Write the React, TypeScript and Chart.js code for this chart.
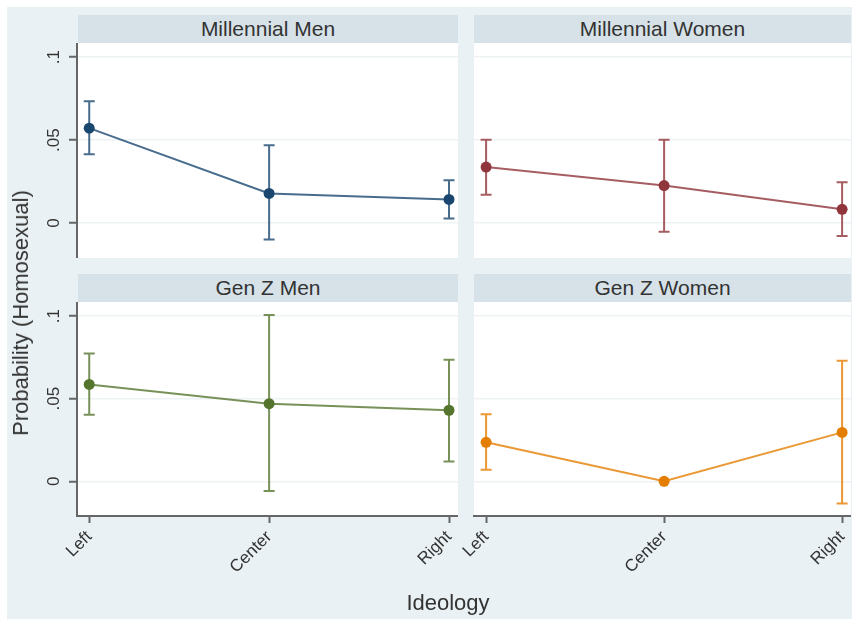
import React, { useEffect, useRef } from "react";
import { Chart, registerables } from "chart.js";

Chart.register(...registerables);
Chart.defaults.font.family = '"Liberation Sans", Arial, Helvetica, sans-serif';

// ---- data ----
const ideologyLabels = ["Left", "Center", "Right"];
const yTickValues = [0, 0.05, 0.1];
const yTickLabels = ["0", ".05", ".1"];
const panelTitles = ["Millennial Men", "Millennial Women", "Gen Z Men", "Gen Z Women"];

const millennialMenEst = [0.0572, 0.0179, 0.0143];
const millennialMenLow = [0.0415, -0.0098, 0.0028];
const millennialMenHigh = [0.0734, 0.0469, 0.0258];

const millennialWomenEst = [0.0338, 0.0226, 0.0083];
const millennialWomenLow = [0.0171, -0.0052, -0.0078];
const millennialWomenHigh = [0.0503, 0.0503, 0.0246];

const genZMenEst = [0.0586, 0.047, 0.043];
const genZMenLow = [0.0402, -0.0058, 0.012];
const genZMenHigh = [0.0774, 0.1006, 0.0736];

const genZWomenEst = [0.0236, 0.0, 0.0296];
const genZWomenLow = [0.007, 0.0, -0.0134];
const genZWomenHigh = [0.0406, 0.0, 0.073];

const yMin = -0.021;
const yMax = 0.1085;
const xMin = -0.068;
const xMax = 2.05;

// ---- styles ----
const outerBg = "#eaf1f4";
const stripBg = "#d6e2e8";
const gridColor = "#edf2f4";
const axisColor = "#666666";
const textColor = "#333333";

type PanelDef = {
  title: string;
  est: number[];
  low: number[];
  high: number[];
  marker: string;
  line: string;
  left: boolean;
  bottom: boolean;
  yw: number;
  cx: number;
  cy: number;
  cw: number;
  ch: number;
  hx: number;
  hy: number;
  hw: number;
};

const panels: PanelDef[] = [
  {
    title: panelTitles[0], est: millennialMenEst, low: millennialMenLow, high: millennialMenHigh,
    marker: "rgb(26,71,111)", line: "rgba(26,71,111,0.8)", left: true, bottom: false, yw: 70,
    cx: 7, cy: 43, cw: 451, ch: 215, hx: 78, hy: 15, hw: 380,
  },
  {
    title: panelTitles[1], est: millennialWomenEst, low: millennialWomenLow, high: millennialWomenHigh,
    marker: "rgb(144,53,59)", line: "rgba(144,53,59,0.8)", left: false, bottom: false, yw: 0,
    cx: 474, cy: 43, cw: 377, ch: 215, hx: 474, hy: 15, hw: 377,
  },
  {
    title: panelTitles[2], est: genZMenEst, low: genZMenLow, high: genZMenHigh,
    marker: "rgb(85,117,47)", line: "rgba(85,117,47,0.8)", left: true, bottom: true, yw: 70,
    cx: 7, cy: 302, cw: 451, ch: 317, hx: 78, hy: 274, hw: 380,
  },
  {
    title: panelTitles[3], est: genZWomenEst, low: genZWomenLow, high: genZWomenHigh,
    marker: "rgb(227,126,0)", line: "rgba(227,126,0,0.8)", left: false, bottom: true, yw: 24,
    cx: 450, cy: 302, cw: 401, ch: 317, hx: 474, hy: 274, hw: 377,
  },
];

const plotBgPlugin = {
  id: "plotBg",
  beforeDraw(chart: any) {
    const { ctx, chartArea } = chart;
    ctx.save();
    ctx.fillStyle = "#ffffff";
    ctx.fillRect(chartArea.left, chartArea.top, chartArea.right - chartArea.left, chartArea.bottom - chartArea.top);
    ctx.restore();
  },
};

const errorBarPlugin = {
  id: "errorBars",
  beforeDatasetsDraw(chart: any, _args: any, opts: any) {
    const { ctx } = chart;
    const xs = chart.scales.x;
    const ys = chart.scales.y;
    const low: number[] = opts.low || [];
    const high: number[] = opts.high || [];
    ctx.save();
    ctx.strokeStyle = opts.color;
    ctx.lineWidth = 2;
    const cap = 5.5;
    for (let i = 0; i < low.length; i++) {
      if (low[i] === high[i]) continue;
      const x = xs.getPixelForValue(i);
      const y1 = ys.getPixelForValue(low[i]);
      const y2 = ys.getPixelForValue(high[i]);
      ctx.beginPath();
      ctx.moveTo(x, y1);
      ctx.lineTo(x, y2);
      ctx.moveTo(x - cap, y1);
      ctx.lineTo(x + cap, y1);
      ctx.moveTo(x - cap, y2);
      ctx.lineTo(x + cap, y2);
      ctx.stroke();
    }
    ctx.restore();
  },
};

function zeroPadding(s: any) {
  s.paddingTop = 0;
  s.paddingBottom = 0;
  s.paddingLeft = 0;
  s.paddingRight = 0;
}

function makeConfig(p: PanelDef): any {
  return {
    type: "line",
    data: {
      datasets: [
        {
          data: p.est.map((v, i) => ({ x: i, y: v })),
          borderColor: p.line,
          backgroundColor: p.marker,
          pointBackgroundColor: p.marker,
          pointBorderColor: p.marker,
          pointBorderWidth: 0,
          pointRadius: 5.5,
          borderWidth: 2,
          tension: 0,
          fill: false,
          clip: false,
        },
      ],
    },
    options: {
      responsive: false,
      animation: false,
      events: [],
      layout: { padding: 0, autoPadding: false },
      plugins: {
        legend: { display: false },
        tooltip: { enabled: false },
        title: { display: false },
        errorBars: { low: p.low, high: p.high, color: p.line },
      },
      scales: {
        x: {
          type: "linear",
          min: xMin,
          max: xMax,
          display: p.bottom,
          afterBuildTicks: (s: any) => {
            s.ticks = ideologyLabels.map((_, i) => ({ value: i }));
          },
          afterFit: (s: any) => {
            s.height = p.bottom ? 103 : 0;
            zeroPadding(s);
          },
          grid: {
            drawOnChartArea: false,
            drawTicks: true,
            tickLength: 7,
            tickColor: axisColor,
            tickWidth: 2,
          },
          border: { display: true, color: axisColor, width: 2 },
          ticks: {
            autoSkip: false,
            minRotation: 45,
            maxRotation: 45,
            padding: 4,
            color: textColor,
            font: { size: 17 },
            callback: (_v: any, i: number) => ideologyLabels[i],
          },
        },
        y: {
          type: "linear",
          min: yMin,
          max: yMax,
          afterBuildTicks: (s: any) => {
            s.ticks = yTickValues.map((v) => ({ value: v }));
          },
          afterFit: (s: any) => {
            s.width = p.yw;
            zeroPadding(s);
          },
          grid: {
            color: gridColor,
            lineWidth: 1.5,
            drawTicks: p.left,
            tickLength: 8,
            tickColor: axisColor,
            tickWidth: 2,
          },
          border: { display: p.left, color: axisColor, width: 2 },
          ticks: {
            display: p.left,
            minRotation: 90,
            maxRotation: 90,
            crossAlign: "center",
            padding: 3,
            color: textColor,
            font: { size: 17 },
            callback: (_v: any, i: number) => yTickLabels[i],
          },
        },
      },
    },
    plugins: [plotBgPlugin, errorBarPlugin],
  };
}

function Panel({ p }: { p: PanelDef }) {
  const ref = useRef<HTMLCanvasElement>(null);
  useEffect(() => {
    const chart = new Chart(ref.current as HTMLCanvasElement, makeConfig(p));
    return () => chart.destroy();
  }, []);
  return (
    <>
      <div
        style={{
          position: "absolute",
          left: p.hx,
          top: p.hy,
          width: p.hw,
          height: 28,
          background: stripBg,
          color: textColor,
          fontSize: 21,
          lineHeight: "28px",
          textAlign: "center",
          fontFamily: '"Liberation Sans", Arial, Helvetica, sans-serif',
        }}
      >
        {p.title}
      </div>
      <canvas
        ref={ref}
        width={p.cw}
        height={p.ch}
        style={{ position: "absolute", left: p.cx, top: p.cy, width: p.cw, height: p.ch }}
      />
    </>
  );
}

export default function App() {
  return (
    <div
      style={{
        position: "fixed",
        left: 0,
        top: 0,
        width: 857,
        height: 620,
        background: "#ffffff",
        overflow: "hidden",
        fontFamily: '"Liberation Sans", Arial, Helvetica, sans-serif',
      }}
    >
      <div style={{ position: "absolute", left: 7, top: 7, width: 845, height: 612, background: outerBg }} />
      {panels.map((p) => (
        <Panel key={p.title} p={p} />
      ))}
      <div
        style={{
          position: "absolute",
          left: 21,
          top: 313,
          transform: "translate(-50%, -50%) rotate(-90deg)",
          whiteSpace: "nowrap",
          fontSize: 22,
          color: textColor,
        }}
      >
        Probability (Homosexual)
      </div>
      <div
        style={{
          position: "absolute",
          left: 448,
          top: 603,
          transform: "translate(-50%, -50%)",
          whiteSpace: "nowrap",
          fontSize: 22,
          color: textColor,
        }}
      >
        Ideology
      </div>
    </div>
  );
}
